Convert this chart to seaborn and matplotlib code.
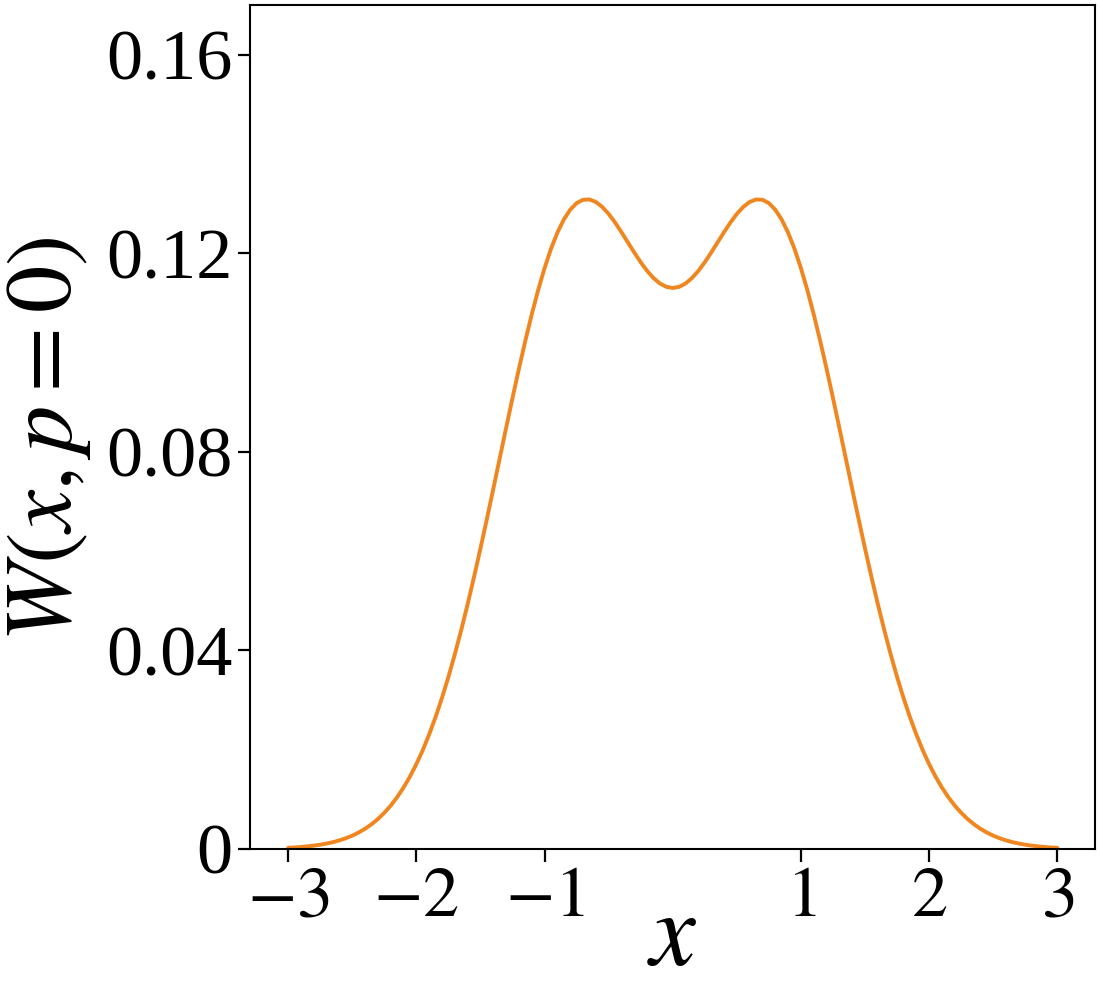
import numpy as np
import pandas as pd
import matplotlib
matplotlib.use("Agg")
import matplotlib.pyplot as plt
import seaborn as sns

# values, W(x, p=0), every 0.05 in x
x_vals = [-3.00, -2.95, -2.90, -2.85, -2.80, -2.75, -2.70, -2.65, -2.60, -2.55,
          -2.50, -2.45, -2.40, -2.35, -2.30, -2.25, -2.20, -2.15, -2.10, -2.05,
          -2.00, -1.95, -1.90, -1.85, -1.80, -1.75, -1.70, -1.65, -1.60, -1.55,
          -1.50, -1.45, -1.40, -1.35, -1.30, -1.25, -1.20, -1.15, -1.10, -1.05,
          -1.00, -0.95, -0.90, -0.85, -0.80, -0.75, -0.70, -0.65, -0.60, -0.55,
          -0.50, -0.45, -0.40, -0.35, -0.30, -0.25, -0.20, -0.15, -0.10, -0.05,
          0.00,
          0.05, 0.10, 0.15, 0.20, 0.25, 0.30, 0.35, 0.40, 0.45, 0.50,
          0.55, 0.60, 0.65, 0.70, 0.75, 0.80, 0.85, 0.90, 0.95, 1.00,
          1.05, 1.10, 1.15, 1.20, 1.25, 1.30, 1.35, 1.40, 1.45, 1.50,
          1.55, 1.60, 1.65, 1.70, 1.75, 1.80, 1.85, 1.90, 1.95, 2.00,
          2.05, 2.10, 2.15, 2.20, 2.25, 2.30, 2.35, 2.40, 2.45, 2.50,
          2.55, 2.60, 2.65, 2.70, 2.75, 2.80, 2.85, 2.90, 2.95, 3.00]
w_vals = [0.00024, 0.00031, 0.00041, 0.00053, 0.00068, 0.00087, 0.00110, 0.00138, 0.00174, 0.00217,
          0.00269, 0.00332, 0.00408, 0.00498, 0.00604, 0.00729, 0.00874, 0.01043, 0.01237, 0.01458,
          0.01709, 0.01991, 0.02308, 0.02658, 0.03044, 0.03465, 0.03921, 0.04410, 0.04930, 0.05479,
          0.06053, 0.06645, 0.07251, 0.07865, 0.08478, 0.09083, 0.09672, 0.10235, 0.10767, 0.11257,
          0.11699, 0.12087, 0.12414, 0.12678, 0.12876, 0.13009, 0.13077, 0.13083, 0.13033, 0.12933,
          0.12792, 0.12619, 0.12424, 0.12219, 0.12014, 0.11819, 0.11645, 0.11500, 0.11391, 0.11323,
          0.11300,
          0.11323, 0.11391, 0.11500, 0.11645, 0.11819, 0.12014, 0.12219, 0.12424, 0.12619, 0.12792,
          0.12933, 0.13033, 0.13083, 0.13077, 0.13009, 0.12876, 0.12678, 0.12414, 0.12087, 0.11699,
          0.11257, 0.10767, 0.10235, 0.09672, 0.09083, 0.08478, 0.07865, 0.07251, 0.06645, 0.06053,
          0.05479, 0.04930, 0.04410, 0.03921, 0.03465, 0.03044, 0.02658, 0.02308, 0.01991, 0.01709,
          0.01458, 0.01237, 0.01043, 0.00874, 0.00729, 0.00604, 0.00498, 0.00408, 0.00332, 0.00269,
          0.00217, 0.00174, 0.00138, 0.00110, 0.00087, 0.00068, 0.00053, 0.00041, 0.00031, 0.00024]

x_ticks = [-3, -2, -1, 1, 2, 3]
x_ticklabels = ["$-3$", "$-2$", "$-1$", "$1$", "$2$", "$3$"]
y_ticks = [0, 0.04, 0.08, 0.12, 0.16]
y_ticklabels = ["0", "0.04", "0.08", "0.12", "0.16"]

df = pd.DataFrame({"x": x_vals, "W": w_vals})

sns.set_style("ticks")
plt.rcParams['font.family'] = ['Liberation Serif', 'DejaVu Serif']
plt.rcParams['mathtext.fontset'] = 'stix'
plt.rcParams['text.color'] = 'black'
plt.rcParams['axes.labelcolor'] = 'black'
plt.rcParams['xtick.color'] = 'black'
plt.rcParams['ytick.color'] = 'black'

fig = plt.figure(figsize=(11, 10), dpi=100)
ax = fig.add_axes([0.227, 0.151, 0.768, 0.844])

sns.lineplot(data=df, x="x", y="W", color="#f0861f", linewidth=2.8, ax=ax)

ax.set_xlim(-3.3, 3.29)
ax.set_ylim(0, 0.17)
ax.set_xticks(x_ticks)
ax.set_xticklabels(x_ticklabels)
ax.set_yticks(y_ticks)
ax.set_yticklabels(y_ticklabels)
ax.tick_params(axis="both", labelsize=52, length=9, width=1.6, direction="out",
               colors="black")

ax.set_xlabel("$x$", fontsize=74, labelpad=-28)
ax.set_ylabel("$W(x,p=0)$", fontsize=68)
ax.yaxis.set_label_coords(-0.185, 0.485)

for sp in ax.spines.values():
    sp.set_linewidth(1.5)
    sp.set_color("black")

fig.savefig("out.png", dpi=100)
